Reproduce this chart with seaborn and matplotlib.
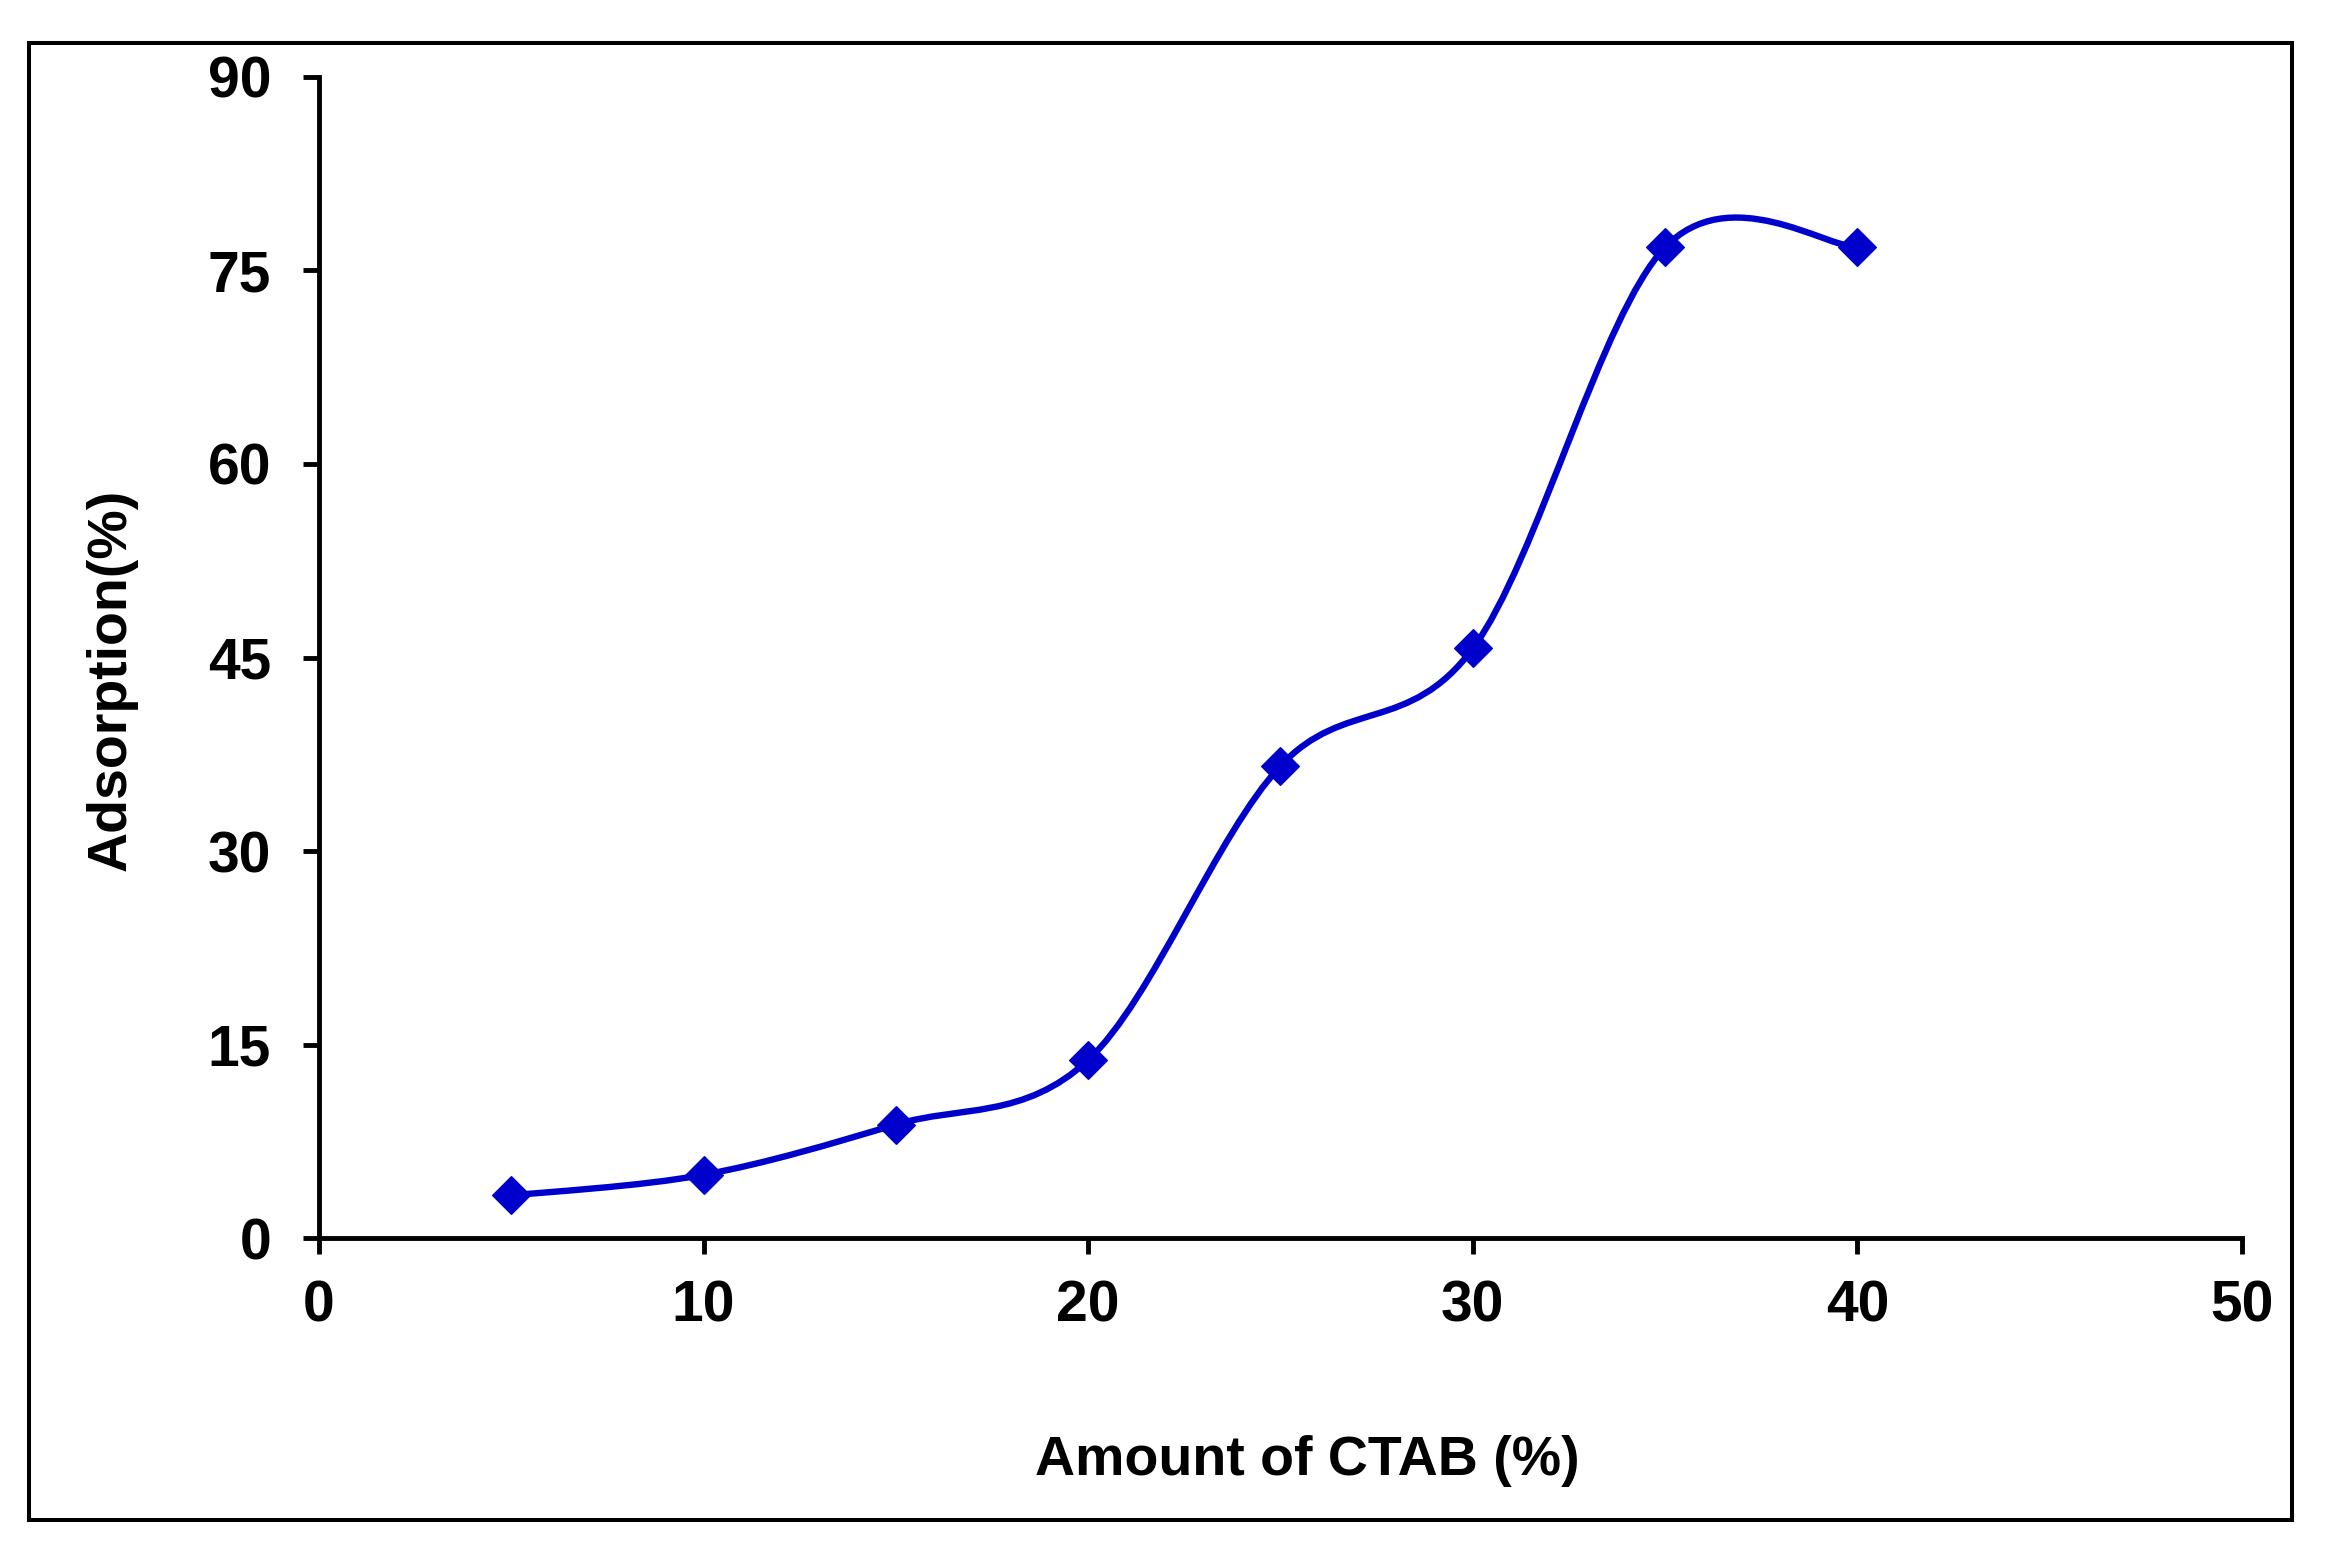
import numpy as np
import pandas as pd
import matplotlib
matplotlib.use("Agg")
import matplotlib.pyplot as plt
from matplotlib.path import Path
from matplotlib.patches import PathPatch, Rectangle
import seaborn as sns

# 数据
ctab_amount = [5, 10, 15, 20, 25, 30, 35, 40]
adsorption = [3.3, 4.9, 8.8, 13.8, 36.6, 45.7, 76.8, 76.8]
x_ticks = [0, 10, 20, 30, 40, 50]
y_ticks = [0, 15, 30, 45, 60, 75, 90]

line_color = "#0000CC"

sns.set_style("white")
plt.rcParams['font.family'] = ['Liberation Sans', 'DejaVu Sans']
plt.rcParams['font.weight'] = 'bold'
plt.rcParams['text.color'] = 'black'
plt.rcParams['axes.labelcolor'] = 'black'


def smooth_path(xs, ys):
    """Excel 风格的平滑曲线 (Catmull-Rom -> Bezier)"""
    pts = np.column_stack([xs, ys]).astype(float)
    n = len(pts)
    verts = [pts[0]]
    codes = [Path.MOVETO]
    for i in range(n - 1):
        p_prev = pts[i - 1] if i > 0 else pts[i]
        p_next = pts[i + 2] if i + 2 < n else pts[i + 1]
        c1 = pts[i] + (pts[i + 1] - p_prev) / 6
        c2 = pts[i + 1] - (p_next - pts[i]) / 6
        verts += [c1, c2, pts[i + 1]]
        codes += [Path.CURVE4] * 3
    return Path(verts, codes)


df = pd.DataFrame({"CTAB": ctab_amount, "Adsorption": adsorption})

fig = plt.figure(figsize=(23.25, 15.52), dpi=100)
ax = fig.add_axes([0.1372, 0.2023, 0.8271, 0.7481])

# 平滑曲线
ax.add_patch(PathPatch(smooth_path(df["CTAB"], df["Adsorption"]), fill=False,
                       edgecolor=line_color, linewidth=4.6, capstyle='round',
                       zorder=2))

# 菱形标记
sns.scatterplot(data=df, x="CTAB", y="Adsorption", marker="D", s=19 ** 2,
                color=line_color, edgecolor=line_color, linewidth=1.2,
                ax=ax, zorder=3, clip_on=False)

ax.set_xlim(0, 50)
ax.set_ylim(0, 90)
ax.set_xticks(x_ticks)
ax.set_yticks(y_ticks)

for side in ["top", "right"]:
    ax.spines[side].set_visible(False)
for side in ["left", "bottom"]:
    ax.spines[side].set_linewidth(3.5)
    ax.spines[side].set_color("black")
    ax.spines[side].set_capstyle('projecting')

ax.tick_params(axis='both', direction='out', length=11.5, width=3.5,
               labelsize=41, colors='black', bottom=True, left=True)
ax.tick_params(axis='x', pad=18)
ax.tick_params(axis='y', pad=23)
for lbl in ax.get_xticklabels() + ax.get_yticklabels():
    lbl.set_fontweight('bold')

ax.set_xlabel("Amount of CTAB (%)", fontsize=40, fontweight='bold', va='center',
              color='black')
ax.xaxis.set_label_coords(0.514, -0.192)
ax.set_ylabel("Adsorption(%)", fontsize=40, fontweight='bold', va='center',
              ha='center', color='black')
ax.yaxis.set_label_coords(-0.108, 0.481)

# 外框
fig.patches.append(Rectangle((0.0125, 0.0206), 0.9733, 0.9517, transform=fig.transFigure,
                             fill=False, edgecolor='black', linewidth=2.9))

fig.savefig("out.png", dpi=100, facecolor='white')
